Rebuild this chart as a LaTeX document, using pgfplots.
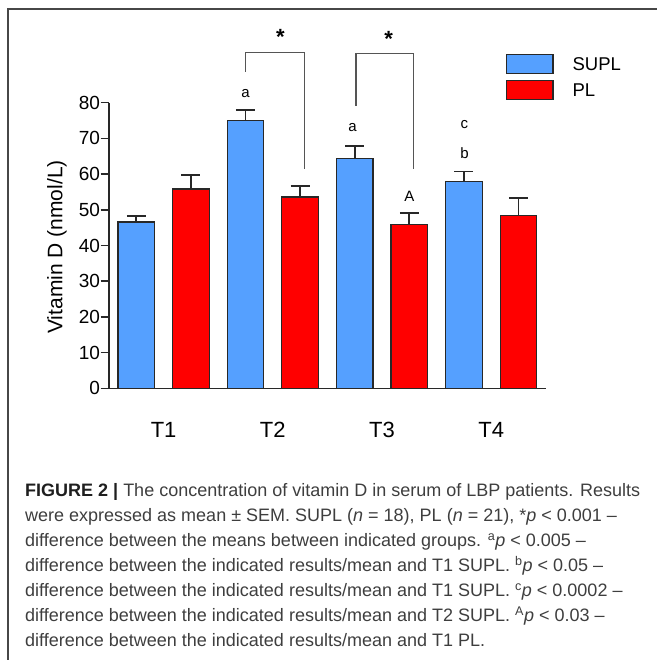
\documentclass[border=0pt]{standalone}
\usepackage{pgfplots}
\pgfplotsset{compat=1.18}
\usepackage{fontspec}
\setmainfont{Liberation Sans}
\definecolor{suplblue}{RGB}{85,160,255}
\definecolor{plred}{RGB}{255,0,0}
\definecolor{outl}{RGB}{40,40,40}
\definecolor{capgray}{RGB}{62,62,62}
\definecolor{brk}{RGB}{85,85,85}

\begin{document}
\begin{tikzpicture}
\useasboundingbox (0bp,0bp) rectangle (657bp,660bp);
\draw[line width=1.8bp, black!72] (7.7bp,-5bp) -- (7.7bp,651.3bp) -- (670bp,651.3bp);

\begin{axis}[
  at={(136.3bp,271.7bp)}, anchor=origin,
  scale only axis, width=436.8bp, height=285.6bp,
  xmin=-0.5, xmax=7.5, ymin=0, ymax=80,
  axis x line=bottom, axis y line=left,
  axis line style={-, line width=1.5bp, outl},
  ytick={0,10,...,80},
  tick align=outside,
  major tick length=8.5bp,
  ytick style={line width=1.5bp, outl},
  xtick={0.5,2.5,4.5,6.5},
  xticklabels={T1,T2,T3,T4},
  xtick style={draw=none},
  xticklabel style={font=\fontsize{22bp}{26bp}\selectfont, inner sep=0pt, anchor=north, yshift=-24.9bp},
  yticklabel style={font=\fontsize{19bp}{22bp}\selectfont, inner sep=0.3bp},
  /pgf/number format/assume math mode=true,
  clip=false,
  legend style={at={(0.9082,1.1705)}, anchor=north west, draw=none, fill=none,
    inner sep=0pt, outer sep=0pt, row sep=6.1bp,
    font=\fontsize{18.5bp}{21bp}\selectfont,
    nodes={inner sep=0pt, anchor=base west},
    /tikz/every odd column/.append style={column sep=19bp}},
  legend cell align=left,
]
\addplot[ybar, bar width=36.5bp, bar shift=0pt, fill=suplblue, draw=outl, line width=1.2bp,
  legend image code/.code={\draw[fill=suplblue, draw=outl, line width=1.2bp] (0bp,-2.7bp) rectangle (46.7bp,16bp);},
  error bars/.cd, y dir=plus, y explicit,
  error bar style={line width=1.8bp, outl},
  error mark options={line width=1.8bp, outl, mark size=9.5bp, rotate=90}]
  coordinates {(0,46.6) +- (0,1.7) (2,75.1) +- (0,2.9) (4,64.4) +- (0,3.4) (6,58.0) +- (0,2.7)};
\addlegendentry{SUPL}
\addplot[ybar, bar width=36.5bp, bar shift=0pt, fill=plred, draw=outl, line width=1.2bp,
  legend image code/.code={\draw[fill=plred, draw=outl, line width=1.2bp] (0bp,-2.7bp) rectangle (46.7bp,16bp);},
  error bars/.cd, y dir=plus, y explicit,
  error bar style={line width=1.8bp, outl},
  error mark options={line width=1.8bp, outl, mark size=9.5bp, rotate=90}]
  coordinates {(1,55.8) +- (0,4.0) (3,53.6) +- (0,3.1) (5,45.8) +- (0,3.4) (7,48.5) +- (0,4.9)};
\addlegendentry{PL}

\draw[line width=1.5bp, brk] (axis cs:2,88.7) -- (axis cs:2,94.0) -- (axis cs:3.08,94.0) -- (axis cs:3.08,61.3);
\draw[line width=1.5bp, brk] (axis cs:4.02,79.1) -- (axis cs:4.02,93.8) -- (axis cs:5.08,93.8) -- (axis cs:5.08,61.4);
\node[anchor=base, inner sep=0pt, font=\fontsize{22bp}{24bp}\selectfont\bfseries] at (axis cs:2.64,96.3) {*};
\node[anchor=base, inner sep=0pt, font=\fontsize{22bp}{24bp}\selectfont\bfseries] at (axis cs:4.62,95.8) {*};
\node[anchor=base, inner sep=0pt, font=\fontsize{15bp}{18bp}\selectfont] at (axis cs:2,81.5) {a};
\node[anchor=base, inner sep=0pt, font=\fontsize{15bp}{18bp}\selectfont] at (axis cs:3.96,71.9) {a};
\node[anchor=base, inner sep=0pt, font=\fontsize{15bp}{18bp}\selectfont] at (axis cs:5.0,52.4) {A};
\node[anchor=base, inner sep=0pt, font=\fontsize{15bp}{18bp}\selectfont] at (axis cs:6.01,72.9) {c};
\node[anchor=base, inner sep=0pt, font=\fontsize{15bp}{18bp}\selectfont] at (axis cs:6.01,64.5) {b};
\end{axis}

\node[rotate=90, inner sep=0pt, font=\fontsize{21bp}{24bp}\selectfont] at (57bp,413bp) {Vitamin D (nmol/L)};

\node[anchor=north west, inner sep=0pt, align=left, text=capgray,
  font=\fontsize{18bp}{25bp}\selectfont] at (25bp,176.4bp) {%
{\bfseries\color{black!88}FIGURE 2 |} The concentration of vitamin D in serum of LBP patients. Results\\
were expressed as mean ± SEM. SUPL (\textit{n} = 18), PL (\textit{n} = 21), *\textit{p} < 0.001 –\\
difference between the means between indicated groups. \textsuperscript{a}\textit{p} < 0.005 –\\
difference between the indicated results/mean and T1 SUPL. \textsuperscript{b}\textit{p} < 0.05 –\\
difference between the indicated results/mean and T1 SUPL. \textsuperscript{c}\textit{p} < 0.0002 –\\
difference between the indicated results/mean and T2 SUPL. \textsuperscript{A}\textit{p} < 0.03 –\\
difference between the indicated results/mean and T1 PL.};
\end{tikzpicture}
\end{document}
